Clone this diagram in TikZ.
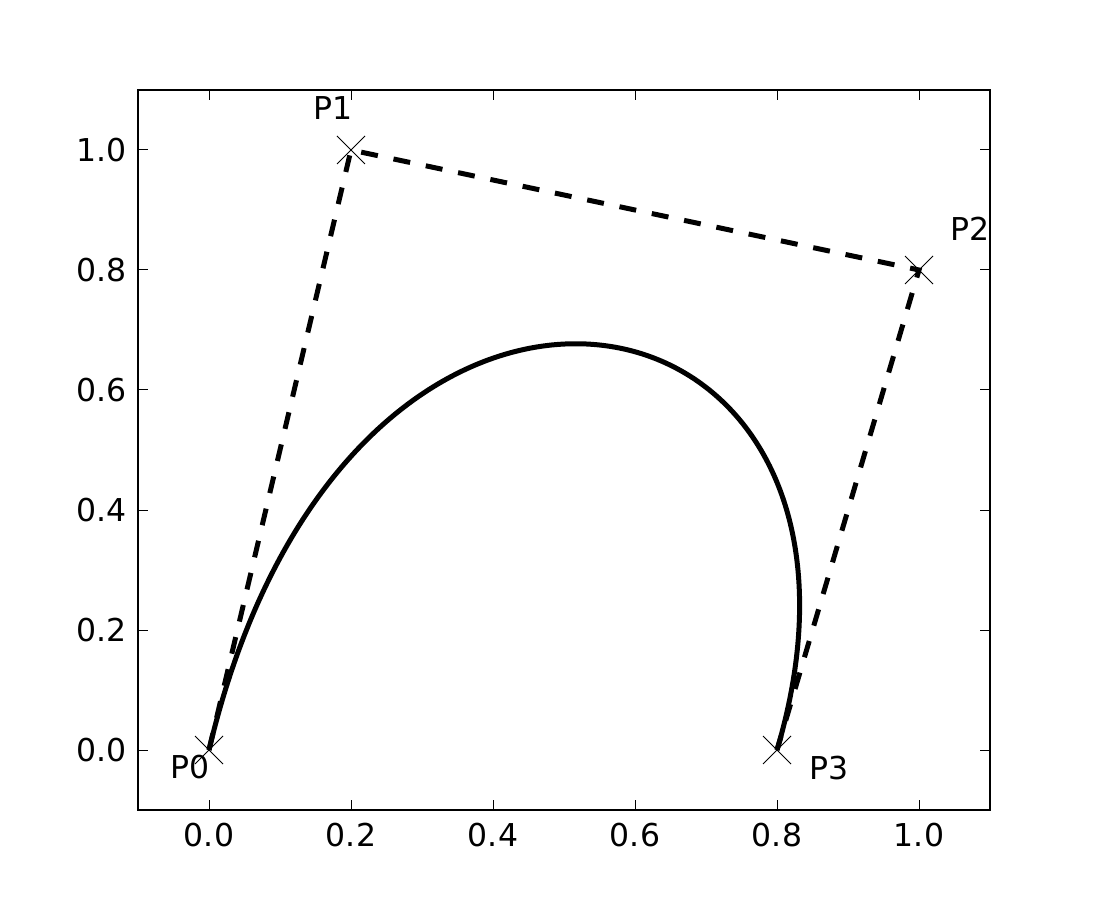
\documentclass[tikz,border=0pt]{standalone}
\usepackage{fontspec}
\setmainfont{DejaVu Sans}
\tikzset{
  ax frame/.style={line width=2.2pt},
  ax tick/.style={line width=1pt},
  ax lbl/.style={inner sep=0pt, font=\fontsize{31.5}{36}\selectfont},
  ctrl poly/.style={line width=5pt, dash pattern=on 17pt off 16pt},
  bez curve/.style={line width=5pt},
  pt mark/.style={line width=1pt},
  pt lbl/.style={inner sep=0pt, font=\fontsize{31.5}{36}\selectfont},
}
\begin{document}
\begin{tikzpicture}[x=1pt, y=1pt]
\useasboundingbox (0,0) rectangle (1100,900);
\begin{scope}[shift={(209pt,150pt)}, x=710pt, y=600pt]
% ---- control points ----
\coordinate (p0) at (0,0);
\coordinate (p1) at (0.2,1);
\coordinate (p2) at (1,0.8);
\coordinate (p3) at (0.8,0);
% ---- ticks and tick labels ----
\foreach \t [count=\i] in {0.0,0.2,0.4,0.6,0.8,1.0} {
  \draw[ax tick] (\t,-0.1) -- ++(0,10pt);
  \draw[ax tick] (\t,1.1) -- ++(0,-10pt);
  \draw[ax tick] (-0.1,\t) -- ++(10pt,0);
  \draw[ax tick] (1.1,\t) -- ++(-10pt,0);
  \node[ax lbl, anchor=north] (xl\i) at ([yshift=-13pt]\t,-0.1) {\t};
  \node[ax lbl, anchor=east] (yl\i) at ([xshift=-11pt]-0.1,\t) {\t};
}
% ---- polygon and curve ----
\draw[ctrl poly] (p0) -- (p1) -- (p2) -- (p3);
\draw[bez curve] (p0) .. controls (p1) and (p2) .. (p3);
% ---- markers ----
\foreach \p in {p0,p1,p2,p3}
  \draw[pt mark] (\p) ++(-14pt,-14pt) -- ++(28pt,28pt) (\p) ++(-14pt,14pt) -- ++(28pt,-28pt);
\node[pt lbl] (l0) at ([shift={(-19pt,-17pt)}]p0) {P0};
\node[pt lbl] (l1) at ([shift={(-18pt,42pt)}]p1) {P1};
\node[pt lbl] (l2) at ([shift={(51pt,41pt)}]p2) {P2};
\node[pt lbl] (l3) at ([shift={(52pt,-18pt)}]p3) {P3};
% ---- frame ----
\draw[ax frame] (-0.1,-0.1) rectangle (1.1,1.1);
\end{scope}
\end{tikzpicture}
\end{document}
